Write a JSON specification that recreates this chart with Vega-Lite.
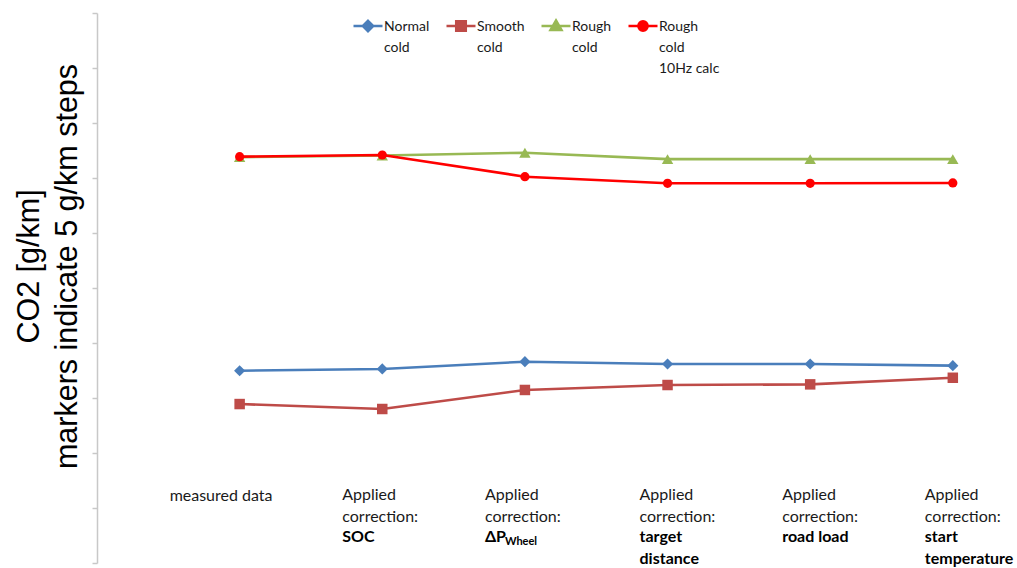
{
  "$schema": "https://vega.github.io/schema/vega-lite/v6.json",
  "autosize": "none",
  "width": 920,
  "height": 550,
  "padding": {"left": 97, "top": 13, "right": 0, "bottom": 5},
  "background": "white",
  "config": {"view": {"stroke": null}, "font": "Lato"},
  "datasets": {
    "series": [
      {"step": 0, "series": "Normal cold", "value": 17.48},
      {"step": 1, "series": "Normal cold", "value": 17.64},
      {"step": 2, "series": "Normal cold", "value": 18.3},
      {"step": 3, "series": "Normal cold", "value": 18.09},
      {"step": 4, "series": "Normal cold", "value": 18.09},
      {"step": 5, "series": "Normal cold", "value": 17.94},
      {"step": 0, "series": "Smooth cold", "value": 14.45},
      {"step": 1, "series": "Smooth cold", "value": 14.0},
      {"step": 2, "series": "Smooth cold", "value": 15.73},
      {"step": 3, "series": "Smooth cold", "value": 16.18},
      {"step": 4, "series": "Smooth cold", "value": 16.24},
      {"step": 5, "series": "Smooth cold", "value": 16.84},
      {"step": 0, "series": "Rough cold", "value": 36.9},
      {"step": 1, "series": "Rough cold", "value": 37.05},
      {"step": 2, "series": "Rough cold", "value": 37.3},
      {"step": 3, "series": "Rough cold", "value": 36.72},
      {"step": 4, "series": "Rough cold", "value": 36.72},
      {"step": 5, "series": "Rough cold", "value": 36.72},
      {"step": 0, "series": "Rough cold 10Hz calc", "value": 36.94},
      {"step": 1, "series": "Rough cold 10Hz calc", "value": 37.09},
      {"step": 2, "series": "Rough cold 10Hz calc", "value": 35.12},
      {"step": 3, "series": "Rough cold 10Hz calc", "value": 34.52},
      {"step": 4, "series": "Rough cold 10Hz calc", "value": 34.52},
      {"step": 5, "series": "Rough cold 10Hz calc", "value": 34.55}
    ],
    "labels": [
      {"step": 0, "normal": ["measured data"], "bold": [""], "sub": ""},
      {"step": 1, "normal": ["Applied", "correction:"], "bold": ["SOC"], "sub": ""},
      {"step": 2, "normal": ["Applied", "correction:"], "bold": ["ΔP"], "sub": "Wheel"},
      {"step": 3, "normal": ["Applied", "correction:"], "bold": ["target", "distance"], "sub": ""},
      {"step": 4, "normal": ["Applied", "correction:"], "bold": ["road load"], "sub": ""},
      {"step": 5, "normal": ["Applied", "correction:"], "bold": ["start", "temperature"], "sub": ""}
    ]
  },
  "layer": [
    {
      "data": {"name": "series"},
      "mark": {"type": "line", "strokeWidth": 2.6},
      "encoding": {
        "x": {"field": "step", "type": "quantitative", "scale": {"domain": [-1, 5.45], "nice": false, "zero": false}, "axis": null},
        "y": {"field": "value", "type": "quantitative", "scale": {"domain": [0, 50], "nice": false},
          "axis": {"values": [0, 5, 10, 15, 20, 25, 30, 35, 40, 45, 50], "labels": false, "grid": false,
            "domainColor": "#c8c8c8", "domainWidth": 1.5, "tickColor": "#c8c8c8", "tickWidth": 1.5, "tickSize": 5,
            "title": ["CO2 [g/km]", "markers indicate 5 g/km steps"],
            "titleFont": "Liberation Sans", "titleFontSize": 30.5, "titleFontWeight": "normal", "titleColor": "#000000",
            "titleLineHeight": 38, "titleAngle": -90, "titleBaseline": "middle", "titleAlign": "center", "titleX": -68, "titleY": 253}},
        "color": {"field": "series", "type": "nominal",
          "scale": {"domain": ["Normal cold", "Smooth cold", "Rough cold", "Rough cold 10Hz calc"], "range": ["#4a7ebb", "#be4b48", "#98b954", "#ff0000"]},
          "legend": {
            "orient": "none", "legendX": 255, "legendY": -3, "direction": "horizontal", "title": null, "padding": 0,
            "symbolSize": 841, "symbolStrokeWidth": 2.5, "columnPadding": 11, "labelOffset": 0, "labelFont": "Lato", "labelFontSize": 14, "labelColor": "#1a1a1a",
            "labelBaseline": "top", "labelLimit": 0,
            "symbolType": {"expr": "datum.value == 'Normal cold' ? 'M-1,0H1M0,-0.36L0.36,0L0,0.36L-0.36,0Z' : datum.value == 'Smooth cold' ? 'M-1,0H1M-0.33,-0.33H0.33V0.33H-0.33Z' : datum.value == 'Rough cold' ? 'M-1,0H1M0,-0.38L0.38,0.28H-0.38Z' : 'M-1,0H1M-0.32,0A0.32,0.32 0 1,0 0.32,0A0.32,0.32 0 1,0 -0.32,0Z'"},
            "labelExpr": "datum.label == 'Rough cold 10Hz calc' ? ['Rough', 'cold', '10Hz calc'] : [split(datum.label, ' ')[0], split(datum.label, ' ')[1], '']",
            "encode": {
              "symbols": {"update": {
                "shape": {"signal": "datum.value == 'Normal cold' ? 'M-1,0H1M0,-0.36L0.36,0L0,0.36L-0.36,0Z' : datum.value == 'Smooth cold' ? 'M-1,0H1M-0.33,-0.33H0.33V0.33H-0.33Z' : datum.value == 'Rough cold' ? 'M-1,0H1M0,-0.38L0.38,0.28H-0.38Z' : 'M-1,0H1M-0.32,0A0.32,0.32 0 1,0 0.32,0A0.32,0.32 0 1,0 -0.32,0Z'"},
                "size": {"value": 841},
                "stroke": {"scale": "color", "field": "value"},
                "fill": {"scale": "color", "field": "value"},
                "strokeWidth": {"value": 2.5},
                "opacity": {"value": 1}
              }},
              "labels": {"update": {"lineHeight": {"value": 21}, "dy": {"value": -6}}}
            }
          }}
      }
    },
    {
      "data": {"name": "series"},
      "transform": [{"filter": "datum.series == 'Normal cold'"}],
      "mark": {"type": "point", "filled": true, "shape": "diamond", "size": 125, "opacity": 1},
      "encoding": {"x": {"field": "step", "type": "quantitative"}, "y": {"field": "value", "type": "quantitative"}, "color": {"field": "series", "type": "nominal"}}
    },
    {
      "data": {"name": "series"},
      "transform": [{"filter": "datum.series == 'Smooth cold'"}],
      "mark": {"type": "point", "filled": true, "shape": "square", "size": 110, "opacity": 1},
      "encoding": {"x": {"field": "step", "type": "quantitative"}, "y": {"field": "value", "type": "quantitative"}, "color": {"field": "series", "type": "nominal"}}
    },
    {
      "data": {"name": "series"},
      "transform": [{"filter": "datum.series == 'Rough cold'"}],
      "mark": {"type": "point", "filled": true, "shape": "triangle-up", "size": 130, "opacity": 1},
      "encoding": {"x": {"field": "step", "type": "quantitative"}, "y": {"field": "value", "type": "quantitative"}, "color": {"field": "series", "type": "nominal"}}
    },
    {
      "data": {"name": "series"},
      "transform": [{"filter": "datum.series == 'Rough cold 10Hz calc'"}],
      "mark": {"type": "point", "filled": true, "shape": "circle", "size": 85, "opacity": 1},
      "encoding": {"x": {"field": "step", "type": "quantitative"}, "y": {"field": "value", "type": "quantitative"}, "color": {"field": "series", "type": "nominal"}}
    },
    {
      "data": {"name": "labels"},
      "transform": [{"filter": "datum.step == 0"}],
      "mark": {"type": "text", "align": "left", "baseline": "top", "dx": -70, "fontSize": 16, "lineHeight": 21.7, "color": "#1a1a1a"},
      "encoding": {"x": {"field": "step", "type": "quantitative"}, "y": {"datum": 6.85}, "text": {"field": "normal"}}
    },
    {
      "data": {"name": "labels"},
      "transform": [{"filter": "datum.step >= 1 && datum.step <= 2"}],
      "mark": {"type": "text", "align": "left", "baseline": "top", "dx": -40, "fontSize": 16, "lineHeight": 21.7, "color": "#1a1a1a"},
      "encoding": {"x": {"field": "step", "type": "quantitative"}, "y": {"datum": 6.91}, "text": {"field": "normal"}}
    },
    {
      "data": {"name": "labels"},
      "transform": [{"filter": "datum.step >= 3"}],
      "mark": {"type": "text", "align": "left", "baseline": "top", "dx": -28, "fontSize": 16, "lineHeight": 21.7, "color": "#1a1a1a"},
      "encoding": {"x": {"field": "step", "type": "quantitative"}, "y": {"datum": 6.91}, "text": {"field": "normal"}}
    },
    {
      "data": {"name": "labels"},
      "transform": [{"filter": "datum.step >= 1 && datum.step <= 2"}],
      "mark": {"type": "text", "align": "left", "baseline": "top", "dx": -40, "fontSize": 16, "fontWeight": "bold", "lineHeight": 21.7, "color": "#000000"},
      "encoding": {"x": {"field": "step", "type": "quantitative"}, "y": {"datum": 3.1}, "text": {"field": "bold"}}
    },
    {
      "data": {"name": "labels"},
      "transform": [{"filter": "datum.step >= 3"}],
      "mark": {"type": "text", "align": "left", "baseline": "top", "dx": -28, "fontSize": 16, "fontWeight": "bold", "lineHeight": 21.7, "color": "#000000"},
      "encoding": {"x": {"field": "step", "type": "quantitative"}, "y": {"datum": 3.1}, "text": {"field": "bold"}}
    },
    {
      "data": {"name": "labels"},
      "transform": [{"filter": "datum.sub != ''"}],
      "mark": {"type": "text", "align": "left", "baseline": "top", "dx": -20, "fontSize": 11, "fontWeight": "bold", "color": "#000000"},
      "encoding": {"x": {"field": "step", "type": "quantitative"}, "y": {"datum": 2.45}, "text": {"field": "sub"}}
    }
  ]
}
